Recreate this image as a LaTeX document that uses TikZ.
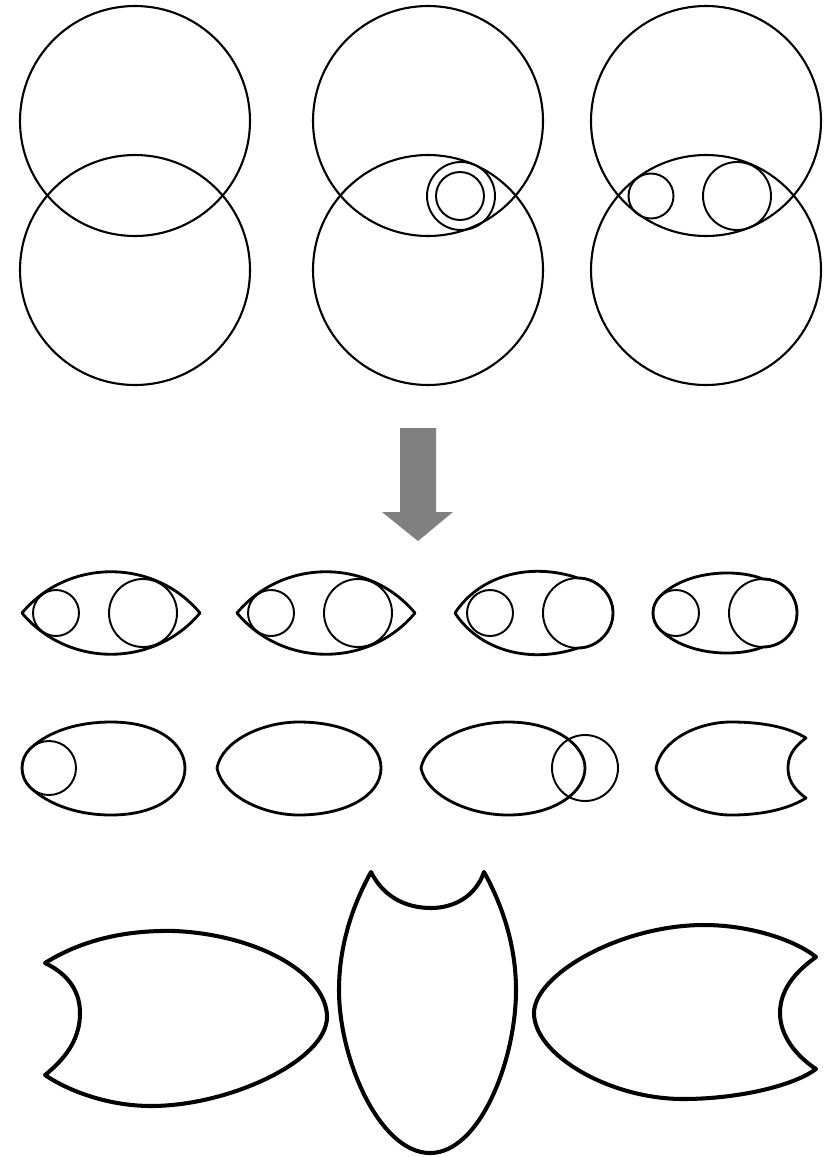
\documentclass[tikz,border=0pt]{standalone}
\usepackage{tikz}

\begin{document}
\begin{tikzpicture}[x=0.02cm,y=-0.02cm,
  trazo/.style={line width=1.2pt},
  contorno/.style={line width=1.6pt,line join=round},
  guia/.style={line width=1.1pt},
  ala/.style={line width=2.3pt,line join=round},
  flecha/.style={fill=black!50,draw=none}]
\useasboundingbox (0,0) rectangle (829,1157);

%   circulos grandes
\draw[trazo] (135,121) circle (115);
\draw[trazo] (135,270) circle (115);
\draw[trazo] (428,121) circle (115);
\draw[trazo] (428,270) circle (115);
\draw[trazo] (706,121) circle (115);
\draw[trazo] (706,270) circle (115);
\draw[guia] (461,196) circle (34);
\draw[guia] (460,196) circle (24);
\draw[guia] (651,196) circle (22.5);
\draw[guia] (737,196) circle (34);

%   flecha
\fill[flecha] (400,428) -- (436,428) -- (436,512) -- (453,512) -- (418,541)
  -- (382,512) -- (400,512) -- cycle;

%   ojos
\draw[contorno] (22,613) .. controls (68,558) and (154,558) .. (200,613)
  .. controls (154,668) and (68,668) .. (22,613) -- cycle;
\draw[guia] (56,613) circle (23);
\draw[guia] (143,613) circle (34);

\draw[contorno] (237,613) .. controls (283,558) and (369,558) .. (415,613)
  .. controls (369,668) and (283,668) .. (237,613) -- cycle;
\draw[guia] (271,613) circle (23);
\draw[guia] (358,613) circle (34);

\draw[contorno] (455,613) .. controls (480,575) and (530,562) .. (578,578)
  .. controls (597,578) and (613,594) .. (613,613)
  .. controls (613,632) and (597,648) .. (578,648)
  .. controls (530,664) and (480,651) .. (455,613) -- cycle;
\draw[guia] (490,613) circle (23);
\draw[guia] (578,613) circle (35);

\draw[contorno] (659.7,596.7) .. controls (685,571) and (735,568) .. (763,579)
  .. controls (782,579) and (797,594) .. (797,613)
  .. controls (797,632) and (782,647) .. (763,647)
  .. controls (735,658) and (685,655) .. (659.7,629.3)
  .. controls (650.7,620.3) and (650.7,605.7) .. (659.7,596.7) -- cycle;
\draw[guia] (676,613) circle (23);
\draw[guia] (763,613) circle (34);

%   huevos
\draw[contorno] (29.9,748.9) .. controls (50,730) and (80,722) .. (111,722)
  .. controls (160,722) and (185,745) .. (185,768)
  .. controls (185,792) and (160,815) .. (111,815)
  .. controls (80,815) and (50,806) .. (29.9,787.1)
  .. controls (19.4,776.6) and (19.4,759.4) .. (29.9,748.9) -- cycle;
\draw[guia] (49,768) circle (27);

\draw[contorno] (217,768) .. controls (222,741) and (262,722) .. (299,722)
  .. controls (345,722) and (381,740) .. (381,768)
  .. controls (381,796) and (345,815) .. (299,815)
  .. controls (262,815) and (222,795) .. (217,768) -- cycle;

\draw[contorno] (421,768) .. controls (426,741) and (468,722) .. (508,722)
  .. controls (555,722) and (585,745) .. (585,768)
  .. controls (585,792) and (555,815) .. (508,815)
  .. controls (468,815) and (426,795) .. (421,768) -- cycle;
\draw[guia] (585,768) circle (33);

\draw[contorno] (656,768) .. controls (661,740) and (698,722) .. (731,722)
  .. controls (765,722) and (790,728) .. (806,738)
  .. controls (792,748) and (788,758) .. (788,768)
  .. controls (788,778) and (792,788) .. (806,798)
  .. controls (790,808) and (765,815) .. (731,815)
  .. controls (698,815) and (661,796) .. (656,768) -- cycle;

%   piezas finales
\draw[ala] (45,963) .. controls (85,938) and (130,930) .. (175,931)
  .. controls (260,935) and (327,975) .. (327,1017)
  .. controls (327,1060) and (230,1106) .. (151,1106)
  .. controls (110,1106) and (70,1092) .. (45,1075)
  .. controls (70,1055) and (80,1035) .. (80,1013)
  .. controls (80,993) and (70,975) .. (45,963) -- cycle;

\draw[ala] (371,872) .. controls (385,900) and (410,908) .. (431,908)
  .. controls (452,908) and (475,898) .. (484,872)
  .. controls (505,910) and (516,950) .. (516,990)
  .. controls (516,1060) and (480,1153) .. (430,1153)
  .. controls (380,1153) and (339,1060) .. (339,990)
  .. controls (339,950) and (350,910) .. (371,872) -- cycle;

\draw[ala] (816,957) .. controls (795,940) and (750,925) .. (704,925)
  .. controls (620,925) and (534,975) .. (534,1013)
  .. controls (534,1055) and (610,1099) .. (683,1099)
  .. controls (740,1099) and (795,1085) .. (816,1069)
  .. controls (795,1055) and (780,1035) .. (780,1013)
  .. controls (780,990) and (795,972) .. (816,957) -- cycle;

% \draw[gray!50,step=50](0,0) grid (829,1157);
\end{tikzpicture}
\end{document}
